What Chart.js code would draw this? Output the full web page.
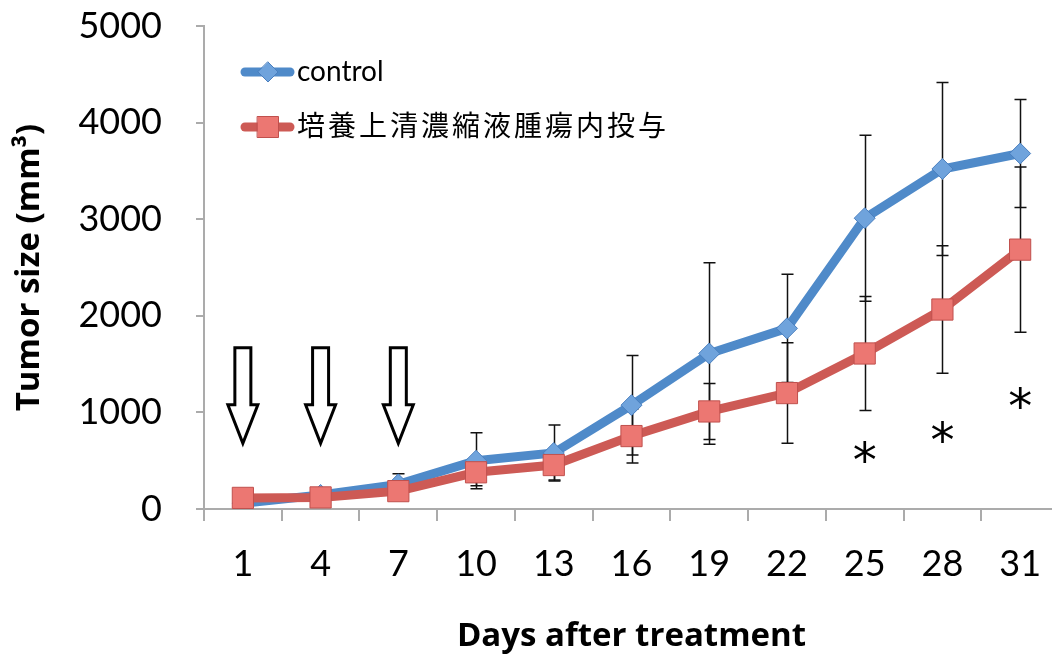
<!DOCTYPE html>
<html>
<head>
<meta charset="utf-8">
<script src="https://cdn.jsdelivr.net/npm/chart.js@4"></script>
<style>
  body { margin: 0; background: #fff; overflow: hidden; }
  #wrap { width: 1075px; height: 657px; }
</style>
</head>
<body>
<div id="wrap"><canvas id="myChart" width="1075" height="657"></canvas></div>
<script>
// days after treatment
const days = ["1", "4", "7", "10", "13", "16", "19", "22", "25", "28", "31"];

// tumor size, mean and SD (mm3)
const controlMean = [60, 145, 255, 500, 580, 1075, 1610, 1870, 3010, 3520, 3680];
const controlSd = [40, 40, 110, 290, 290, 515, 940, 560, 860, 895, 560];
const treatMean = [115, 120, 185, 380, 455, 755, 1010, 1200, 1610, 2065, 2685];
const treatSd = [30, 30, 40, 140, 155, 280, 290, 520, 590, 660, 855];

const controlLabel = "control";
const treatLabel = "培養上清濃縮液腫瘍内投与";

// injection arrows (days, and arrow top / head base / tip in mm3)
const arrowDays = ["1", "4", "7"];
const arrowTop = 1670, arrowNeck = 1080, arrowTip = 680;

// significance marks
const starDays = ["25", "28", "31"];
const starValues = [590, 797, 1149];

const ctx = document.getElementById("myChart").getContext("2d");

const extras = {
    id: "extras",
    beforeDatasetsDraw(chart) {
        const c = chart.ctx;
        const y = chart.scales.y;
        c.save();
        c.strokeStyle = "#111";
        c.lineWidth = 1.5;
        [[0, controlMean, controlSd], [1, treatMean, treatSd]].forEach(([i, mean, sd]) => {
            const meta = chart.getDatasetMeta(i);
            meta.data.forEach((pt, j) => {
                const x = Math.round(pt.x) + 0.5;
                const top = y.getPixelForValue(mean[j] + sd[j]);
                const bot = y.getPixelForValue(mean[j] - sd[j]);
                c.beginPath();
                c.moveTo(x, top); c.lineTo(x, bot);
                c.moveTo(x - 6, top); c.lineTo(x + 6, top);
                c.moveTo(x - 6, bot); c.lineTo(x + 6, bot);
                c.stroke();
            });
        });
        c.restore();
    },
    afterDraw(chart) {
        const c = chart.ctx;
        const xs = chart.scales.x, ys = chart.scales.y;
        const area = chart.chartArea;
        c.save();

        // arrows
        c.strokeStyle = "#000";
        c.fillStyle = "#fff";
        c.lineWidth = 3;
        c.lineJoin = "miter";
        arrowDays.forEach(d => {
            const x = xs.getPixelForValue(days.indexOf(d));
            const t = ys.getPixelForValue(arrowTop);
            const n = ys.getPixelForValue(arrowNeck);
            const p = ys.getPixelForValue(arrowTip);
            c.beginPath();
            c.moveTo(x - 8, t); c.lineTo(x + 8, t); c.lineTo(x + 8, n);
            c.lineTo(x + 15, n); c.lineTo(x, p); c.lineTo(x - 15, n);
            c.lineTo(x - 8, n); c.closePath();
            c.fill(); c.stroke();
        });

        // asterisks
        c.fillStyle = "#000";
        c.font = "48px 'DejaVu Sans'";
        c.textAlign = "center";
        c.textBaseline = "alphabetic";
        starDays.forEach((d, k) => {
            const x = xs.getPixelForValue(days.indexOf(d));
            const yy = ys.getPixelForValue(starValues[k]);
            const m = c.measureText("*");
            const off = (m.actualBoundingBoxAscent - m.actualBoundingBoxDescent) / 2;
            c.fillText("*", x, yy + off);
        });

        // legend
        const rows = [
            { label: controlLabel, color: "#4f8ac9", fill: "#6fa3dc", edge: "#4a7fbf", shape: "diamond", y: area.top + 46, sp: "0px" },
            { label: treatLabel, color: "#cd5a55", fill: "#ec7772", edge: "#c0504d", shape: "square", y: area.top + 101, sp: "3px" }
        ];
        rows.forEach(r => {
            const x0 = area.left + 41, x1 = area.left + 86, xm = area.left + 64;
            c.strokeStyle = r.color;
            c.lineWidth = 9;
            c.lineCap = "round";
            c.beginPath(); c.moveTo(x0, r.y); c.lineTo(x1, r.y); c.stroke();
            c.fillStyle = r.fill;
            c.strokeStyle = r.edge;
            c.lineWidth = 1;
            c.beginPath();
            if (r.shape === "diamond") {
                c.moveTo(xm, r.y - 10); c.lineTo(xm + 10, r.y); c.lineTo(xm, r.y + 10); c.lineTo(xm - 10, r.y);
                c.closePath();
            } else {
                c.rect(xm - 10.5, r.y - 10.5, 21, 21);
            }
            c.fill(); c.stroke();
            c.fillStyle = "#000";
            c.font = "28px Lato, 'Noto Sans CJK JP'";
            c.textAlign = "left";
            c.textBaseline = "middle";
            c.letterSpacing = r.sp;
            c.fillText(r.label, area.left + 93, r.y);
        });
        c.restore();
    }
};

const axisGrey = "#ababab";

new Chart(ctx, {
    type: "line",
    data: {
        labels: days,
        datasets: [
            {
                label: controlLabel,
                data: controlMean,
                borderColor: "#4f8ac9",
                borderWidth: 9,
                pointStyle: "rectRot",
                pointRadius: 10.5,
                pointBackgroundColor: "#6fa3dc",
                pointBorderColor: "#4a7fbf",
                pointBorderWidth: 1,
                order: 1,
                fill: false
            },
            {
                label: treatLabel,
                data: treatMean,
                borderColor: "#cd5a55",
                borderWidth: 9,
                pointStyle: "rect",
                pointRadius: 15,
                pointBackgroundColor: "#ec7772",
                pointBorderColor: "#c0504d",
                pointBorderWidth: 1,
                order: 0,
                fill: false
            }
        ]
    },
    options: {
        responsive: false,
        animation: false,
        layout: { padding: { top: 26, right: 3, left: 0, bottom: 0 } },
        plugins: { legend: { display: false }, tooltip: { enabled: false } },
        scales: {
            x: {
                offset: true,
                grid: { display: true, offset: true, drawOnChartArea: false, drawTicks: true, tickLength: 12, color: axisGrey, lineWidth: 2 },
                border: { display: true, color: axisGrey, width: 2 },
                ticks: { color: "#000", font: { family: "Lato", size: 36 }, padding: 22, maxRotation: 0 },
                title: { display: true, text: "Days after treatment", color: "#000", font: { family: "'Open Sans'", size: 33, weight: "bold" }, padding: { top: 0, bottom: 1 } },
                afterFit: s => { s.height = 148; }
            },
            y: {
                min: 0,
                max: 5000,
                ticks: { stepSize: 1000, color: "#000", font: { family: "Lato", size: 36 }, padding: 34, callback: v => String(v) },
                grid: { display: true, drawOnChartArea: false, drawTicks: true, tickLength: 8, color: axisGrey, lineWidth: 2 },
                border: { display: true, color: axisGrey, width: 2 },
                title: { display: true, text: "Tumor size (mm³)", color: "#000", font: { family: "'Open Sans'", size: 33, weight: "bold" }, padding: { top: 10, bottom: 0 } },
                afterFit: s => { s.width = 204; s.paddingTop = 0; s.paddingBottom = 0; }
            }
        }
    },
    plugins: [extras]
});
</script>
</body>
</html>
